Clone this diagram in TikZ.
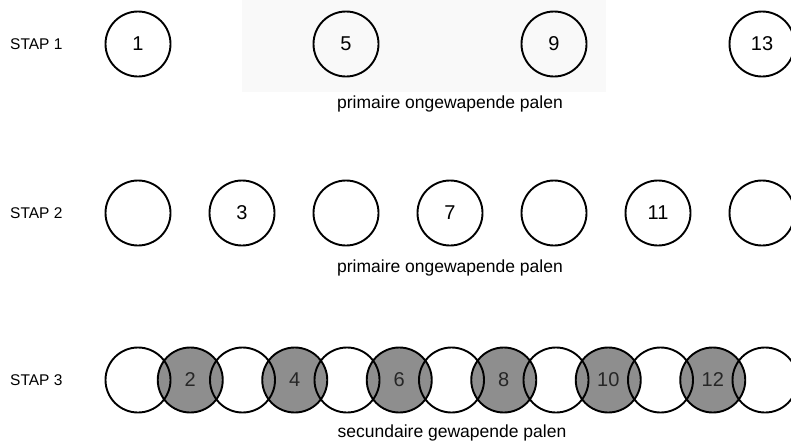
\documentclass[tikz,border=0pt]{standalone}
\usepackage{fontspec}
\setmainfont{Liberation Sans}
\definecolor{pilegrey}{HTML}{8E8E8E}
\definecolor{numgrey}{HTML}{262626}
\definecolor{scanhaze}{HTML}{F9F9F9}
\begin{document}
\begin{tikzpicture}[x=1pt,y=-1pt,
  pile/.style={circle,draw=black,line width=1.9pt,minimum size=65pt,inner sep=0pt,
    font=\fontsize{20}{20}\selectfont},
  reinforced/.style={pile,fill=pilegrey,text=numgrey},
  openpile/.style={pile,fill=none},
  steplabel/.style={anchor=west,inner sep=0pt,font=\fontsize{15.5}{15.5}\selectfont},
  caption/.style={inner sep=0pt,font=\fontsize{17.5}{17.5}\selectfont}]
\useasboundingbox (0,0) rectangle (791,442);
\fill[scanhaze] (242,0) rectangle (606,92);

% step 1: primary unreinforced piles 1, 5, 9, 13
\node[steplabel] (s1) at (10,44) {STAP 1};
\foreach \n in {1,5,9,13}
  \node[openpile] (a\n) at ({138+52*(\n-1)},44) {\n};
\node[caption] (c1) at (450,104) {primaire ongewapende palen};

% step 2: primary unreinforced piles 3, 7, 11 between the existing ones
\node[steplabel] (s2) at (10,213) {STAP 2};
\foreach \n in {1,5,9,13}
  \node[openpile] (b\n) at ({138+52*(\n-1)},213) {};
\foreach \n in {3,7,11}
  \node[openpile] (b\n) at ({138+52*(\n-1)},213) {\n};
\node[caption] (c2) at (450,268) {primaire ongewapende palen};

% step 3: secondary reinforced piles cut into the primary ones
\node[steplabel] (s3) at (10,380) {STAP 3};
\foreach \n in {2,4,...,12}
  \node[reinforced] (d\n) at ({138+52.25*(\n-1)},380) {\n};
\foreach \n in {1,3,...,13}
  \node[openpile] (d\n) at ({138+52.25*(\n-1)},380) {};
\node[caption] (c3) at (452,433) {secundaire gewapende palen};
\end{tikzpicture}
\end{document}
